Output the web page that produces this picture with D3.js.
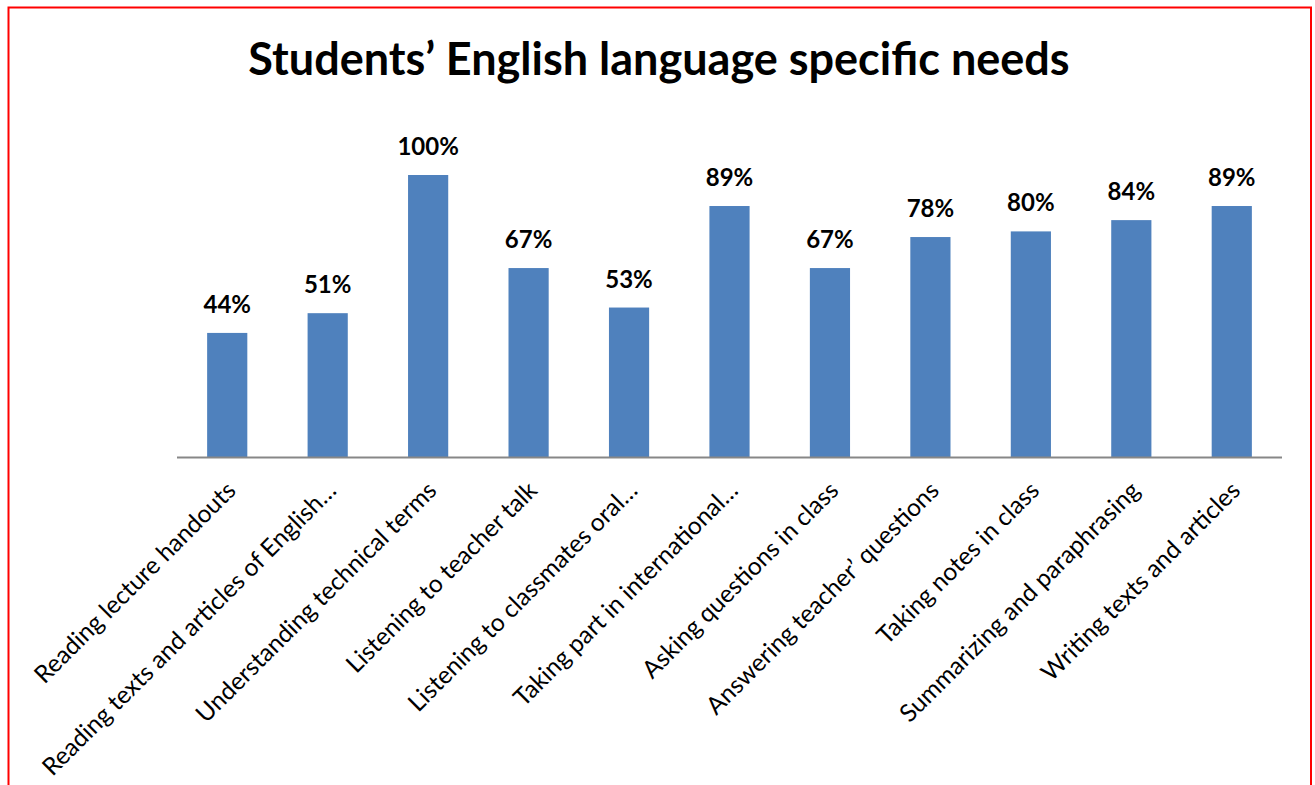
<!DOCTYPE html>
<html>
<head>
<meta charset="utf-8">
<script src="https://cdn.jsdelivr.net/npm/d3@7"></script>
<style>
  html, body { margin: 0; padding: 0; background: #fff; }
  svg { display: block; }
</style>
</head>
<body>
<svg id="chart" width="1315" height="785"></svg>
<script>
// Skill areas and the share of students who need each one
const categories = [
  "Reading lecture handouts",
  "Reading texts and articles of English…",
  "Understanding technical terms",
  "Listening to teacher talk",
  "Listening to classmates oral…",
  "Taking part in international…",
  "Asking questions in class",
  "Answering teacher’ questions",
  "Taking notes in class",
  "Summarizing and paraphrasing",
  "Writing texts and articles"
];
const values = [0.44, 0.51, 1.00, 0.67, 0.53, 0.89, 0.67, 0.78, 0.80, 0.84, 0.89];
const title = "Students’ English language specific needs";

const svg = d3.select("#chart");
const font = "Lato, 'Open Sans', sans-serif";

// outer frame (red, open at the bottom edge)
svg.append("path")
  .attr("d", `M8.5,785 V7.5 H1311 V785`)
  .attr("fill", "none")
  .attr("stroke", "#ff0000")
  .attr("stroke-width", 2);

const plot = { left: 177, right: 1282, top: 175, base: 457 };

const x = d3.scaleBand()
  .domain(categories)
  .range([plot.left, plot.right])
  .paddingInner(0.6)
  .paddingOuter(0.3);

const y = d3.scaleLinear()
  .domain([0, 1])
  .range([plot.base, plot.top]);

// bars
svg.append("g").selectAll("rect")
  .data(values)
  .join("rect")
  .attr("x", (d, i) => x(categories[i]))
  .attr("y", d => y(d))
  .attr("width", x.bandwidth())
  .attr("height", d => y(0) - y(d))
  .attr("fill", "#4f81bd");

// category axis
const xAxis = svg.append("g")
  .attr("transform", `translate(0,${plot.base})`)
  .call(d3.axisBottom(x).tickSize(0).tickPadding(0));
xAxis.select(".domain")
  .attr("d", `M${plot.left},0.5H${plot.right}`)
  .attr("stroke", "#878787")
  .attr("stroke-width", 2);
xAxis.selectAll(".tick text")
  .attr("font-family", font)
  .attr("font-size", 24.5)
  .attr("fill", "#000")
  .attr("text-anchor", "end")
  .attr("dy", 0)
  .attr("transform", "translate(10,35) rotate(-45)");

// value labels
svg.append("g").selectAll("text")
  .data(values)
  .join("text")
  .attr("x", (d, i) => x(categories[i]) + x.bandwidth() / 2)
  .attr("y", d => y(d) - 20)
  .attr("text-anchor", "middle")
  .attr("font-family", font)
  .attr("font-weight", "bold")
  .attr("font-size", 24)
  .attr("fill", "#000")
  .text(d => d3.format(".0%")(d));

// title
svg.append("text")
  .attr("x", 659)
  .attr("y", 75)
  .attr("text-anchor", "middle")
  .attr("font-family", font)
  .attr("font-weight", "bold")
  .attr("font-size", 45)
  .attr("fill", "#000")
  .text(title);
</script>
</body>
</html>
